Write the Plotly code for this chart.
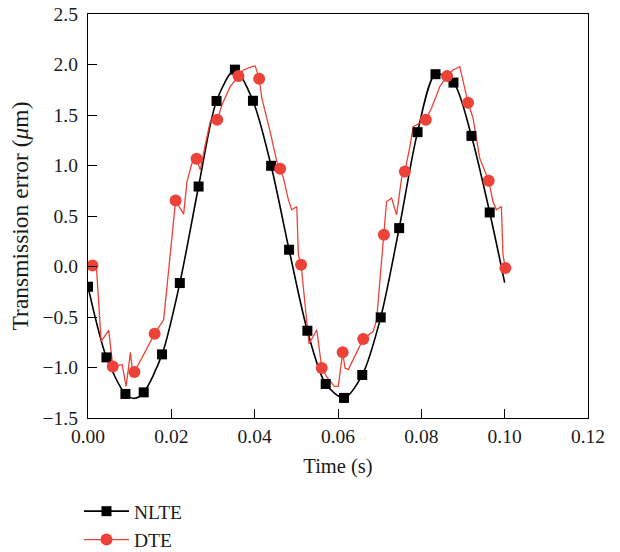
import plotly.graph_objects as go

# NLTE markers
nlte_t = [0.0000, 0.00443, 0.00898, 0.01337, 0.01777, 0.02204, 0.02654, 0.03085,
          0.03526, 0.03959, 0.04395, 0.04826, 0.05265, 0.05705, 0.06144, 0.06582,
          0.07025, 0.07468, 0.07909, 0.08340, 0.08771, 0.09202, 0.09641]
nlte_y = [-0.20, -0.90, -1.262, -1.246, -0.87, -0.164, 0.792, 1.639,
          1.949, 1.641, 0.997, 0.166, -0.636, -1.163, -1.301, -1.074,
          -0.504, 0.380, 1.330, 1.904, 1.821, 1.293, 0.535]
# NLTE smooth curve points
nlte_line_t = [0.0000, 0.00443, 0.00898, 0.0112, 0.01337, 0.01777, 0.02204, 0.02654,
               0.03085, 0.03526, 0.03959, 0.04395, 0.04826, 0.05265, 0.05705, 0.06144,
               0.06582, 0.07025, 0.07468, 0.07909, 0.08340, 0.08771, 0.09202, 0.09641, 0.1000]
nlte_line_y = [-0.20, -0.90, -1.262, -1.305, -1.246, -0.87, -0.164, 0.792,
               1.639, 1.949, 1.641, 0.997, 0.166, -0.636, -1.163, -1.301,
               -1.074, -0.504, 0.380, 1.330, 1.904, 1.821, 1.293, 0.535, -0.16]

# DTE jagged line
dte_t = [0.00108, 0.0020, 0.00316, 0.00498, 0.00594, 0.0082, 0.00915, 0.01018, 0.01059, 0.01114,
         0.0160, 0.01816, 0.02103, 0.02295, 0.02376, 0.02496, 0.02606, 0.02695, 0.02814, 0.02934,
         0.03102, 0.03214, 0.03413, 0.03612, 0.03732, 0.03933, 0.04012, 0.04108, 0.04172, 0.04371,
         0.04532, 0.04611, 0.0469, 0.0481, 0.04891, 0.05011, 0.05049, 0.05114, 0.05305, 0.0549,
         0.0561, 0.0573, 0.05911, 0.06007, 0.06112, 0.06168, 0.06247, 0.06606, 0.06726, 0.06845,
         0.06927, 0.07102, 0.07166, 0.07286, 0.07406, 0.07526, 0.07605, 0.07725, 0.07804, 0.07964,
         0.08108, 0.08244, 0.08443, 0.08618, 0.08762, 0.08922, 0.09001, 0.09121, 0.09241, 0.09401,
         0.09617, 0.0972, 0.09801, 0.09921, 0.09959, 0.10017]
dte_y = [0.01, 0.01, -0.741, -0.633, -0.989, -0.972, -1.186, -0.850, -1.005, -1.044,
         -0.665, -0.527, 0.653, 0.519, 0.841, 1.023, 1.066, 0.957, 1.204, 1.435,
         1.452, 1.600, 1.781, 1.887, 1.946, 1.979, 1.986, 1.860, 1.666, 1.336,
         1.039, 0.967, 0.875, 0.660, 0.561, 0.594, 0.116, 0.017, -0.767, -0.626,
         -1.004, -1.094, -1.186, -1.186, -0.850, -1.005, -1.021, -0.718, -0.675, -0.642,
         -0.527, 0.314, 0.643, 0.677, 0.512, 0.875, 0.940, 1.187, 1.385, 1.419,
         1.452, 1.567, 1.781, 1.885, 1.946, 1.979, 1.830, 1.622, 1.468, 1.073,
         0.848, 0.643, 0.561, 0.594, 0.116, -0.015]
# DTE markers
dte_mt = [0.00108, 0.00594, 0.01114, 0.0160, 0.02103, 0.02606, 0.03102, 0.03612, 0.04108, 0.04611,
          0.05114, 0.0561, 0.06112, 0.06606, 0.07102, 0.07605, 0.08108, 0.08618, 0.09121, 0.09617, 0.10017]
dte_my = [0.01, -0.989, -1.044, -0.665, 0.653, 1.066, 1.452, 1.887, 1.860, 0.967,
          0.017, -1.004, -0.850, -0.718, 0.314, 0.940, 1.452, 1.885, 1.622, 0.848, -0.015]

x_ticks = [0.00, 0.02, 0.04, 0.06, 0.08, 0.10, 0.12]
y_ticks = [-1.5, -1.0, -0.5, 0.0, 0.5, 1.0, 1.5, 2.0, 2.5]

RED = "#EC4237"
FONT = "Liberation Serif"
TXT = "#1a1a1a"

W, H = 620, 552

fig = go.Figure()
# curves
fig.add_trace(go.Scatter(x=nlte_line_t, y=nlte_line_y, mode="lines",
                         line=dict(color="black", width=1.6, shape="spline", smoothing=0.8),
                         showlegend=False, hoverinfo="skip"))
fig.add_trace(go.Scatter(x=dte_t, y=dte_y, mode="lines",
                         line=dict(color=RED, width=1.3),
                         showlegend=False, hoverinfo="skip"))
# markers
fig.add_trace(go.Scatter(x=nlte_t, y=nlte_y, mode="markers", name="NLTE",
                         marker=dict(symbol="square", size=10, color="black"),
                         showlegend=False))
fig.add_trace(go.Scatter(x=dte_mt, y=dte_my, mode="markers", name="DTE",
                         marker=dict(symbol="circle", size=12, color=RED),
                         showlegend=False))
# legend entries (line + marker)
fig.add_trace(go.Scatter(x=[None], y=[None], mode="lines+markers", name="NLTE",
                         line=dict(color="black", width=1.6),
                         marker=dict(symbol="square", size=10, color="black")))
fig.add_trace(go.Scatter(x=[None], y=[None], mode="lines+markers", name="DTE",
                         line=dict(color=RED, width=1.3),
                         marker=dict(symbol="circle", size=12, color=RED)))

axis_common = dict(showline=True, linecolor="black", linewidth=1.3, mirror=True,
                   ticks="inside", ticklen=9, tickwidth=1.2, tickcolor="black",
                   showgrid=False, zeroline=False, automargin=False,
                   ticklabeloverflow="allow",
                   tickfont=dict(family=FONT, size=19.5, color=TXT))

fig.update_xaxes(range=[0, 0.12], tickvals=x_ticks, tickformat=".2f",
                 title=dict(text="Time (s)", font=dict(family=FONT, size=20.5, color=TXT), standoff=13),
                 **axis_common)
fig.update_yaxes(range=[-1.5, 2.5], tickvals=y_ticks, tickformat=".1f", ticklabelstandoff=5,
                 title=dict(text="Transmission error (<i>μ</i>m)", font=dict(family=FONT, size=23.5, color=TXT), standoff=7),
                 **axis_common)

fig.update_layout(
    width=W, height=H,
    margin=dict(l=87.5, r=31.7, t=14, b=133.7, pad=0, autoexpand=False),
    plot_bgcolor="white", paper_bgcolor="white",
    font=dict(family=FONT, size=19, color=TXT),
    legend=dict(x=-0.018, xref="paper", y=1 - 492 / H, yref="container",
                xanchor="left", yanchor="top",
                font=dict(family=FONT, size=19.5, color=TXT),
                tracegroupgap=0, itemwidth=45, bgcolor="rgba(0,0,0,0)"),
)

# remove the default 8px page margin so the figure fills the window exactly
fig.write_html("out.html", config={"displayModeBar": False},
               post_script="document.body.style.margin='0px';")
